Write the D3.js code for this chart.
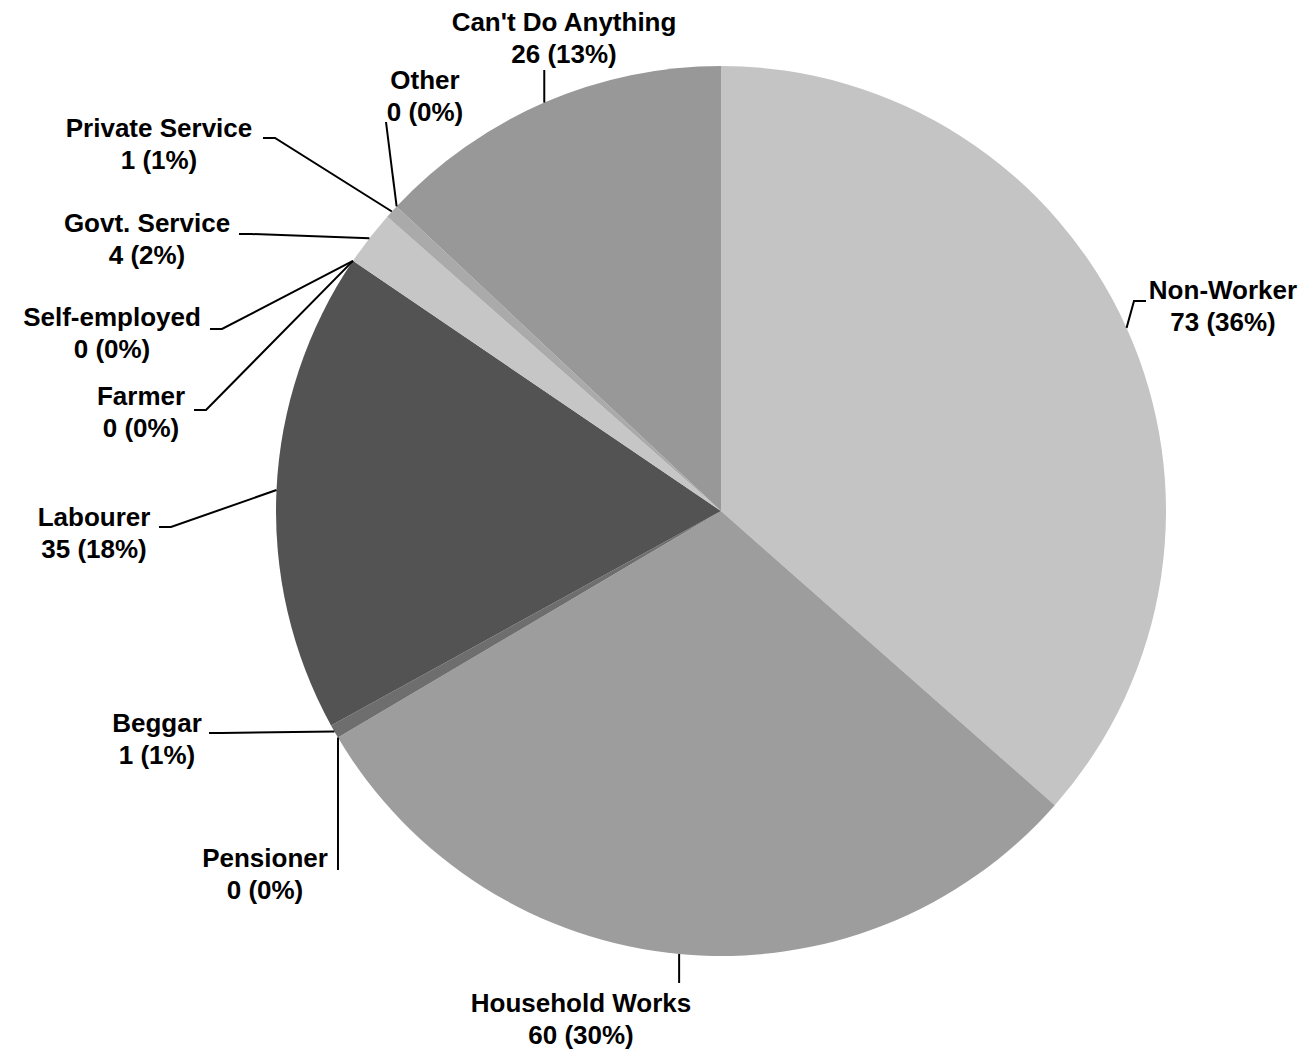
<!DOCTYPE html>
<html>
<head>
<meta charset="utf-8">
<script src="https://cdn.jsdelivr.net/npm/d3@7"></script>
<style>
  body{margin:0;background:#fff;}
  text{font-family:"Liberation Sans",Arial,sans-serif;font-weight:bold;font-size:26px;fill:#000;}
</style>
</head>
<body>
<div class="visHolder"></div>
<script>
// data, clockwise from 12 o'clock
const categories=["Non-Worker","Household Works","Pensioner","Beggar","Labourer","Farmer","Self-employed","Govt. Service","Private Service","Other","Can't Do Anything"];
const counts=[73,60,0,1,35,0,0,4,1,0,26];
const pctLabels=[36,30,0,1,18,0,0,2,1,0,13];
const colors=["#c4c4c4","#9d9d9d","#7a7a7a","#6e6e6e","#535353","#5a5a5a","#5a5a5a","#c6c6c6","#aaaaaa","#a0a0a0","#989898"];

// label layout (text centre x, first baseline y, leader start)
const labelPos=[
  {x:1223,y:299,lead:"h",lx:1146,ly:301,dir:-1},
  {x:581,y:1012,lead:"v",ly:983},
  {x:265,y:867,lead:"v",ly:870},
  {x:157,y:732,lead:"h",lx:209,ly:733,dir:1},
  {x:94,y:526,lead:"h",lx:159,ly:527,dir:1},
  {x:141,y:405,lead:"h",lx:194,ly:410,dir:1},
  {x:112,y:326,lead:"h",lx:210,ly:329,dir:1},
  {x:147,y:232,lead:"h",lx:239,ly:234,dir:1},
  {x:159,y:137,lead:"h",lx:263,ly:138,dir:1},
  {x:425,y:89,lead:"d",lx:386,ly:122},
  {x:564,y:31,lead:"v",ly:70}
];

const w=1309,h=1055,cx=721,cy=511,r=445;
const svg=d3.select(".visHolder")
.append("svg")
.attr("width",w)
.attr("height",h);

const pie=d3.pie().sort(null).value(d=>d)(counts);
const arc=d3.arc().innerRadius(0).outerRadius(r);

const g=svg.append("g").attr("transform","translate("+cx+","+cy+")");

g.selectAll("path")
.data(pie)
.enter()
.append("path")
.attr("d",arc)
.attr("fill",(d,i)=>colors[i]);

// leader lines
function edgePoint(d){
  const a=(d.startAngle+d.endAngle)/2;
  return [cx+r*Math.sin(a),cy-r*Math.cos(a)];
}
const line=d3.line();
svg.selectAll("path.leader")
.data(pie)
.enter()
.append("path")
.attr("class","leader")
.attr("fill","none")
.attr("stroke","#000")
.attr("stroke-width",2)
.attr("d",(d,i)=>{
  const p=edgePoint(d),L=labelPos[i];
  let pts;
  if(L.lead==="v") pts=[[p[0],L.ly],p];
  else if(L.lead==="d") pts=[[L.lx,L.ly],p];
  else pts=[[L.lx,L.ly],[L.lx+L.dir*12,L.ly],p];
  return line(pts);
});

// labels
const labels=svg.selectAll("text.lbl")
.data(pie)
.enter()
.append("text")
.attr("class","lbl")
.attr("text-anchor","middle");
labels.append("tspan")
.attr("x",(d,i)=>labelPos[i].x)
.attr("y",(d,i)=>labelPos[i].y)
.text((d,i)=>categories[i]);
labels.append("tspan")
.attr("x",(d,i)=>labelPos[i].x)
.attr("y",(d,i)=>labelPos[i].y+32)
.text((d,i)=>counts[i]+" ("+pctLabels[i]+"%)");
</script>
</body>
</html>
